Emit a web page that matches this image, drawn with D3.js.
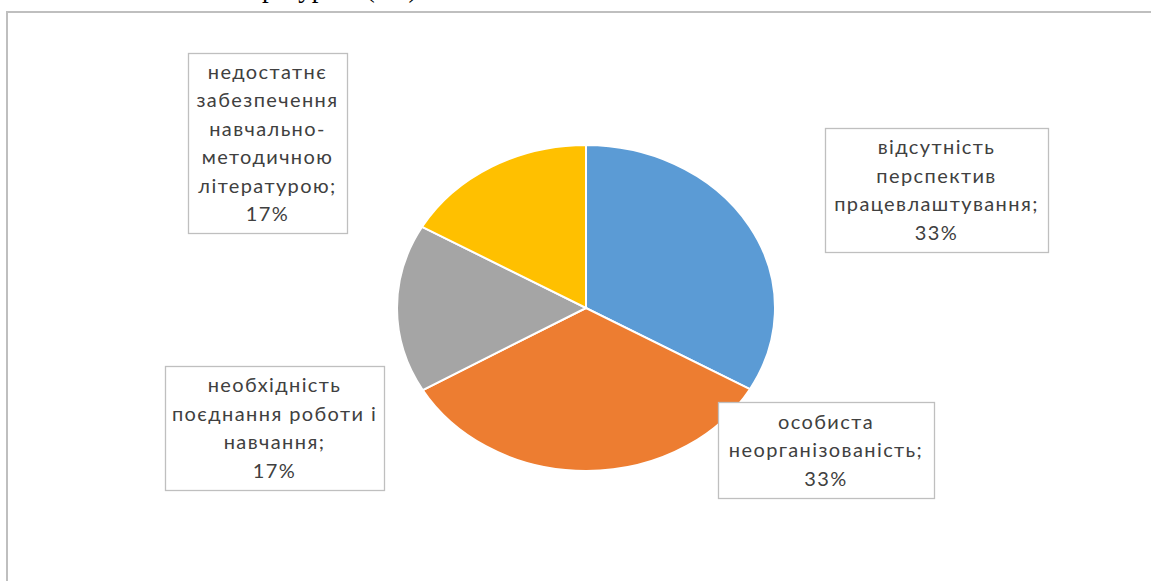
<!DOCTYPE html>
<html>
<head>
<meta charset="utf-8">
<script src="https://cdn.jsdelivr.net/npm/d3@7"></script>
<style>
  body { margin: 0; background: #fff; }
  svg { display: block; }
</style>
</head>
<body>
<svg id="chart"></svg>
<script>
// categories and values (percent)
var categories = [
  "відсутність перспектив працевлаштування",
  "особиста неорганізованість",
  "необхідність поєднання роботи і навчання",
  "недостатнє забезпечення навчально-методичною літературою"
];
var values = [33.3, 33.3, 16.7, 16.7];
var percentLabels = ["33%", "33%", "17%", "17%"];
// how each data label breaks into lines
var labelLines = [
  ["відсутність", "перспектив", "працевлаштування;", "33%"],
  ["особиста", "неорганізованість;", "33%"],
  ["необхідність", "поєднання роботи і", "навчання;", "17%"],
  ["недостатнє", "забезпечення", "навчально-", "методичною", "літературою;", "17%"]
];
var colors = ["#5B9BD5", "#ED7D31", "#A5A5A5", "#FFC000"];

var width = 1151, height = 581;
var svg = d3.select("#chart").attr("width", width).attr("height", height);

// clipped caption line of the page above the chart
svg.append("text")
  .attr("x", 262)
  .attr("y", -3)
  .style("font-family", "'Liberation Serif', serif")
  .style("font-size", "27px")
  .attr("fill", "#000")
  .text("ратурою (2.3)");

// chart area border (runs off the right and bottom)
svg.append("rect")
  .attr("x", 7)
  .attr("y", 12)
  .attr("width", 1160)
  .attr("height", 600)
  .attr("fill", "none")
  .attr("stroke", "#BFBFBF")
  .attr("stroke-width", 2);

// pie, slightly squashed like the reference
var cx = 586, cy = 308, rx = 189, ry = 163;
var pie = d3.pie().sort(null).value(function (d) { return d; });
var arc = d3.arc().innerRadius(0).outerRadius(rx);

var g = svg.append("g")
  .attr("transform", "translate(" + cx + "," + cy + ") scale(1," + (ry / rx) + ")");

g.selectAll("path")
  .data(pie(values))
  .enter()
  .append("path")
  .attr("d", arc)
  .attr("fill", function (d, i) { return colors[i]; })
  .attr("stroke", "#fff")
  .attr("stroke-width", 2)
  .attr("vector-effect", "non-scaling-stroke");

// data label boxes
var boxes = [
  { x: 825, y: 128, w: 223, h: 124 },
  { x: 718, y: 402, w: 216, h: 96 },
  { x: 165, y: 366, w: 219, h: 124 },
  { x: 188, y: 53, w: 159, h: 180 }
];
var lineH = 28.5;

labelLines.forEach(function (lines, i) {
  var b = boxes[i];
  var lg = svg.append("g");
  lg.append("rect")
    .attr("x", b.x + 0.5)
    .attr("y", b.y + 0.5)
    .attr("width", b.w)
    .attr("height", b.h)
    .attr("fill", "#fff")
    .attr("stroke", "#BFBFBF")
    .attr("stroke-width", 1.3);
  var top = b.y + b.h / 2 - (lines.length - 1) * lineH / 2;
  lg.selectAll("text")
    .data(lines)
    .enter()
    .append("text")
    .attr("x", b.x + b.w / 2)
    .attr("y", function (d, j) { return top + j * lineH; })
    .attr("dy", "0.35em")
    .attr("text-anchor", "middle")
    .style("font-family", "Lato, 'Noto Sans', sans-serif")
    .style("font-size", "20px")
    .style("letter-spacing", "1.4px")
    .attr("fill", "#404040")
    .text(function (d) { return d; });
});
</script>
</body>
</html>
